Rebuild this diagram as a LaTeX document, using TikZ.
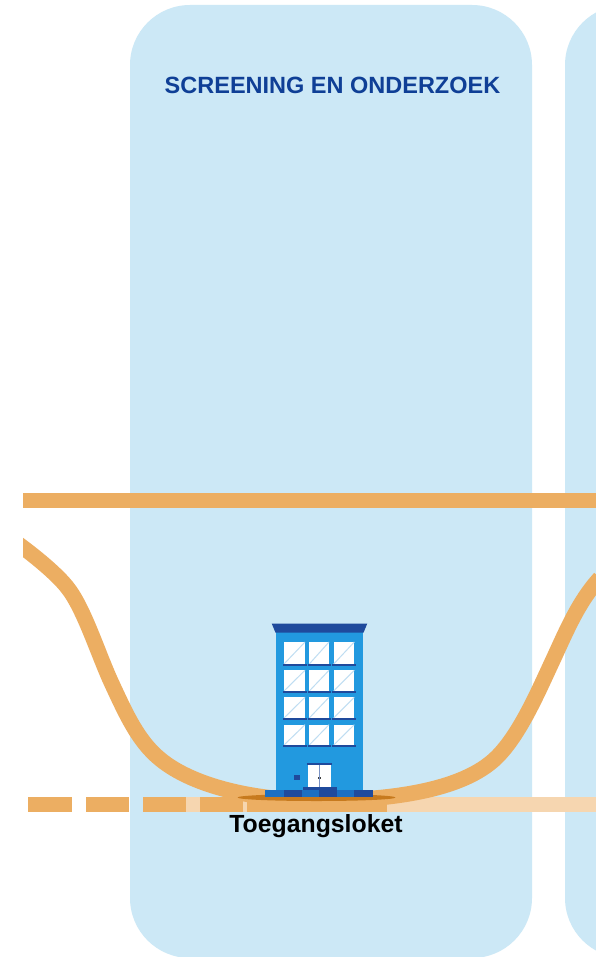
\documentclass[tikz,border=0pt]{standalone}
\usepackage{fontspec}
\setmainfont{Liberation Sans}
\definecolor{panel}{HTML}{CCE8F6}
\definecolor{route}{HTML}{ECAE62}
\definecolor{routelight}{HTML}{F6D6B0}
\definecolor{titleblue}{HTML}{0F3F96}
\definecolor{bldg}{HTML}{2299DF}
\definecolor{bldgdark}{HTML}{1F4A9C}
\definecolor{bldgmid}{HTML}{1B6FC2}
\definecolor{shadowc}{HTML}{C77A1E}
\definecolor{glass}{HTML}{BFDDF2}
\tikzset{
  panelbox/.style={fill=panel,draw=none,rounded corners=60pt},
  bar/.style={draw=route,line width=15pt},
  barlight/.style={draw=routelight,line width=15pt},
  win/.style={fill=white,draw=none},
  sill/.style={fill=bldgdark,draw=none},
  label/.style={inner sep=0pt}
}
\begin{document}
\begin{tikzpicture}[x=1pt,y=-1pt]
\useasboundingbox (0,0) rectangle (596,957);
\clip (0,0) rectangle (596,957);
\fill[white] (0,0) rectangle (596,957);
% panels
\path[panelbox] (130,5) rectangle (532,958);
\path[panelbox] (565,5) rectangle (1000,958);
% horizontal route
\draw[bar] (23,500.5) -- (596,500.5);
% dashed route
\draw[barlight] (186,804.5) -- (596,804.5);
\foreach \a/\b in {28/72,86/129,143/186,200/243,247/387}
  \draw[bar] (\a,804.5) -- (\b,804.5);
% curved route
\begin{scope}
\clip (23,0) rectangle (596,957);
\draw[route,line width=15.5pt,line join=round]
  (10,538) .. controls (30,552) and (55,572) .. (67,587)
  .. controls (84,608) and (98,654) .. (112,684)
  .. controls (126,714) and (138,741) .. (160,759)
  .. controls (195,788) and (260,800.5) .. (316,800.5)
  .. controls (385,800.5) and (462,792) .. (497,757)
  .. controls (520,734) and (538,692) .. (552,662)
  .. controls (566,632) and (578,602) .. (600,578);
\end{scope}
% building
\fill[shadowc] (316.5,797.5) ellipse (79 and 3.5);
\fill[bldg] (276,632) rectangle (362.7,792);
\fill[bldgdark] (271.7,623.5) -- (367.3,623.5) -- (363.5,632.7) -- (275.5,632.7) -- cycle;
\foreach \xa/\xb in {284/305,309.3/329,333.7/354.3}
  \foreach \ya/\yb in {642/664,670.3/691,697.3/718,724.7/745}{
    \fill[win] (\xa,\ya) rectangle (\xb,\yb);
    \draw[glass,line width=1pt] (\xa,\yb) -- (\xb,\ya);
    \fill[sill] (\xa-1.5,\yb) rectangle (\xb+1.5,\yb+1.5);
  }
% door
\fill[bldgdark] (307,763.3) rectangle (332,765.3);
\fill[white] (308.3,765) rectangle (331,786.7);
\draw[bldgdark!60,line width=.6pt] (319.6,765) -- (319.6,786.7);
\fill[black!75] (317.8,776.5) rectangle (319.2,779);
\fill[black!75] (320,776.5) rectangle (321.4,779);
\fill[bldgdark] (293.7,775) rectangle (300,780);
% steps
\fill[bldgmid] (265,790) rectangle (373.3,796.7);
\fill[bldgdark] (284,790) rectangle (301.7,796.7);
\fill[bldgdark] (319.3,790) rectangle (336.7,796.7);
\fill[bldgdark] (354.3,790) rectangle (373.3,796.7);
\fill[bldgdark] (303.3,786.7) rectangle (336.7,790);
% labels
\node[label,text=titleblue,font=\bfseries\fontsize{23.5}{24}\selectfont] (title) at (332.5,85.5) {SCREENING EN ONDERZOEK};
\node[label,text=black,font=\bfseries\fontsize{24.8}{25}\selectfont] (loket) at (316,826.5) {Toegangsloket};
\end{tikzpicture}
\end{document}
